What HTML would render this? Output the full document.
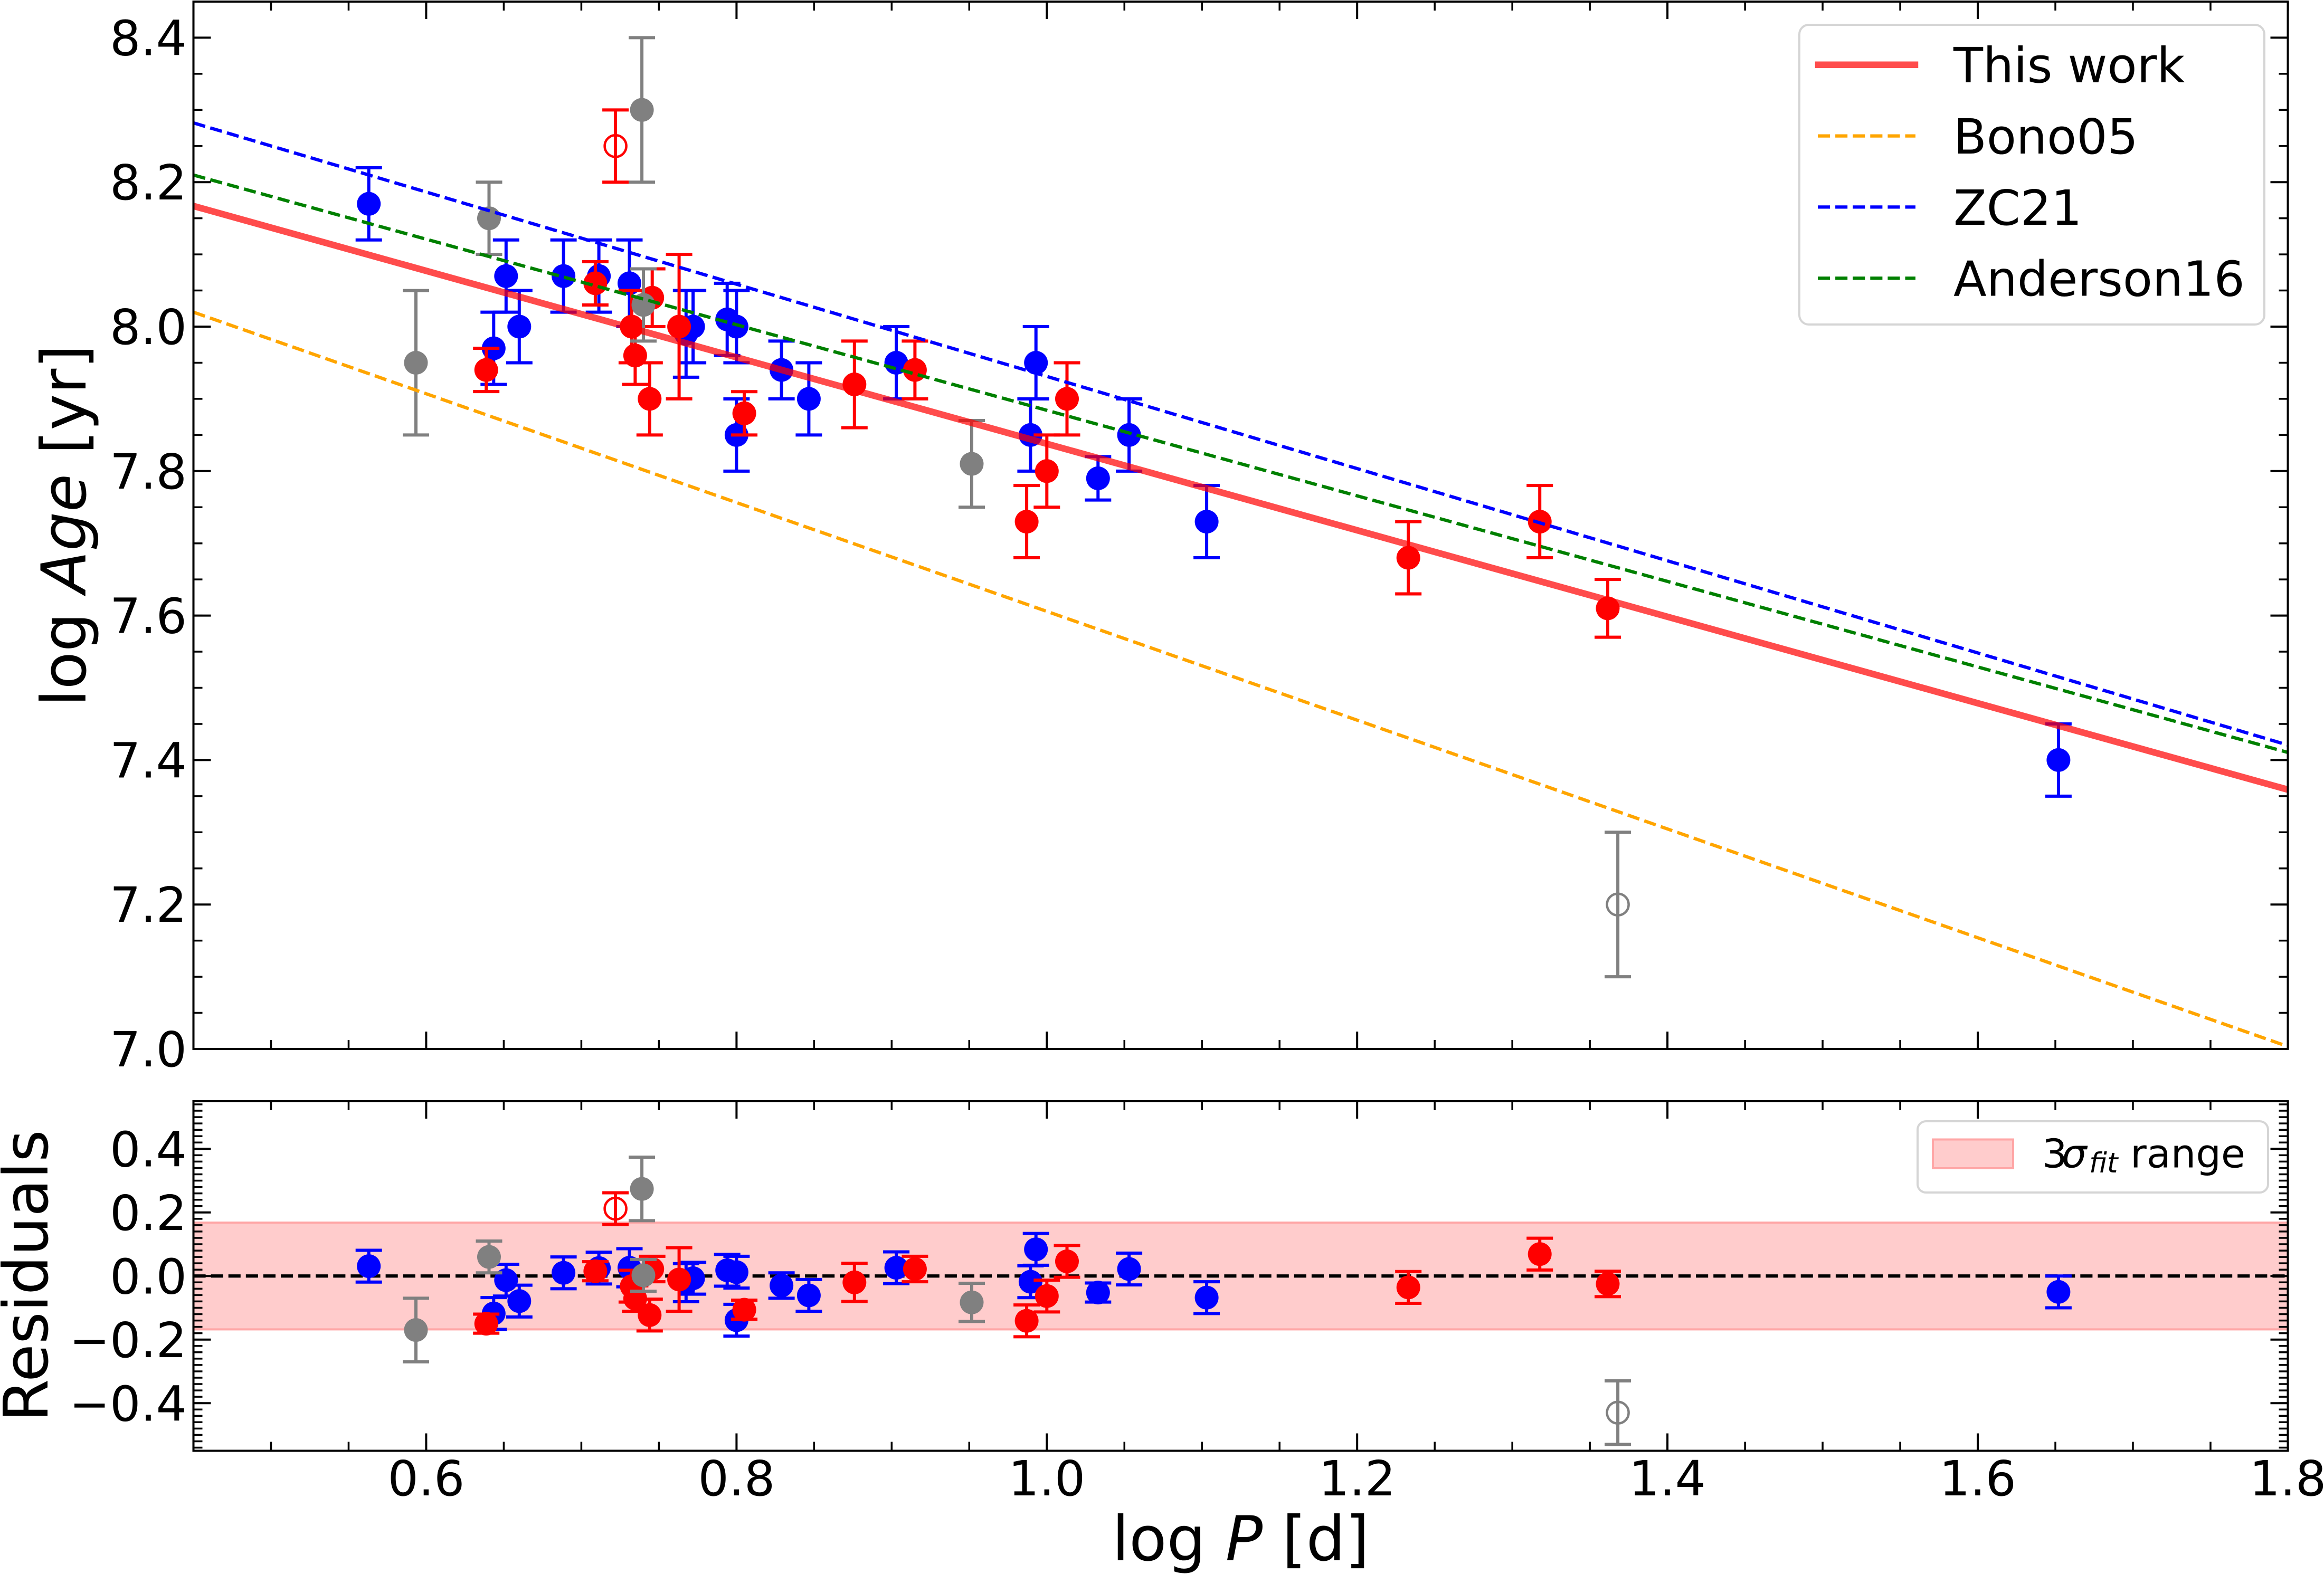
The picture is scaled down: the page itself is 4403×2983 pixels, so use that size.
<!DOCTYPE html>
<html><head><meta charset="utf-8"><style>html,body{margin:0;padding:0;background:#fff}svg{display:block}</style></head><body>
<svg xmlns="http://www.w3.org/2000/svg" xmlns:xlink="http://www.w3.org/1999/xlink" width="4403" height="2983" viewBox="0 0 4403 2983" font-family="'DejaVu Sans','Liberation Sans',sans-serif">
<rect width="4403" height="2983" fill="#fff"/>
<defs>
<clipPath id="ct"><rect x="366.5" y="3" width="3968" height="1985"/></clipPath>
<clipPath id="cr"><rect x="366.5" y="2087" width="3968" height="662.5"/></clipPath>
<g id="t3"><path d="M0,-41.07V41.07M-25,-41.07H25M-25,41.07H25" stroke="currentColor" stroke-width="6" fill="none"/><circle r="22.5" fill="currentColor"/></g>
<g id="t4"><path d="M0,-54.76V54.76M-25,-54.76H25M-25,54.76H25" stroke="currentColor" stroke-width="6" fill="none"/><circle r="22.5" fill="currentColor"/></g>
<g id="t5"><path d="M0,-68.45V68.45M-25,-68.45H25M-25,68.45H25" stroke="currentColor" stroke-width="6" fill="none"/><circle r="22.5" fill="currentColor"/></g>
<g id="t6"><path d="M0,-82.14V82.14M-25,-82.14H25M-25,82.14H25" stroke="currentColor" stroke-width="6" fill="none"/><circle r="22.5" fill="currentColor"/></g>
<g id="t10"><path d="M0,-136.9V136.9M-25,-136.9H25M-25,136.9H25" stroke="currentColor" stroke-width="6" fill="none"/><circle r="22.5" fill="currentColor"/></g>
<g id="ot5"><path d="M0,-68.45V68.45M-25,-68.45H25M-25,68.45H25" stroke="currentColor" stroke-width="6" fill="none"/><circle r="20.5" fill="none" stroke="currentColor" stroke-width="4.5"/></g>
<g id="ot10"><path d="M0,-136.9V136.9M-25,-136.9H25M-25,136.9H25" stroke="currentColor" stroke-width="6" fill="none"/><circle r="20.5" fill="none" stroke="currentColor" stroke-width="4.5"/></g>
<g id="r3"><path d="M0,-18.07V18.07M-25,-18.07H25M-25,18.07H25" stroke="currentColor" stroke-width="6" fill="none"/><circle r="22.5" fill="currentColor"/></g>
<g id="r4"><path d="M0,-24.09V24.09M-25,-24.09H25M-25,24.09H25" stroke="currentColor" stroke-width="6" fill="none"/><circle r="22.5" fill="currentColor"/></g>
<g id="r5"><path d="M0,-30.12V30.12M-25,-30.12H25M-25,30.12H25" stroke="currentColor" stroke-width="6" fill="none"/><circle r="22.5" fill="currentColor"/></g>
<g id="r6"><path d="M0,-36.14V36.14M-25,-36.14H25M-25,36.14H25" stroke="currentColor" stroke-width="6" fill="none"/><circle r="22.5" fill="currentColor"/></g>
<g id="r10"><path d="M0,-60.23V60.23M-25,-60.23H25M-25,60.23H25" stroke="currentColor" stroke-width="6" fill="none"/><circle r="22.5" fill="currentColor"/></g>
<g id="or5"><path d="M0,-30.12V30.12M-25,-30.12H25M-25,30.12H25" stroke="currentColor" stroke-width="6" fill="none"/><circle r="20.5" fill="none" stroke="currentColor" stroke-width="4.5"/></g>
<g id="or10"><path d="M0,-60.23V60.23M-25,-60.23H25M-25,60.23H25" stroke="currentColor" stroke-width="6" fill="none"/><circle r="20.5" fill="none" stroke="currentColor" stroke-width="4.5"/></g>
</defs>

<!-- ============ TOP PANEL ============ -->
<g clip-path="url(#ct)">
<g color="#0000ff">
<use href="#t5" xlink:href="#t5" x="698.7" y="386.3"/>
<use href="#t5" xlink:href="#t5" x="935.3" y="660.1"/>
<use href="#t5" xlink:href="#t5" x="958.8" y="523.2"/>
<use href="#t5" xlink:href="#t5" x="983.8" y="619"/>
<use href="#t5" xlink:href="#t5" x="1067.6" y="523.2"/>
<use href="#t5" xlink:href="#t5" x="1134.6" y="523.2"/>
<use href="#t6" xlink:href="#t6" x="1192.5" y="536.9"/>
<use href="#t6" xlink:href="#t6" x="1299.8" y="632.7"/>
<use href="#t5" xlink:href="#t5" x="1313.1" y="619"/>
<use href="#t5" xlink:href="#t5" x="1377.7" y="605.3"/>
<use href="#t5" xlink:href="#t5" x="1395.4" y="619"/>
<use href="#t5" xlink:href="#t5" x="1395.4" y="824.4"/>
<use href="#t4" xlink:href="#t4" x="1480.6" y="701.1"/>
<use href="#t5" xlink:href="#t5" x="1532.4" y="755.9"/>
<use href="#t5" xlink:href="#t5" x="1698.1" y="687.5"/>
<use href="#t5" xlink:href="#t5" x="1952.4" y="824.4"/>
<use href="#t5" xlink:href="#t5" x="1962.7" y="687.5"/>
<use href="#t3" xlink:href="#t3" x="2080.3" y="906.5"/>
<use href="#t5" xlink:href="#t5" x="2139.1" y="824.4"/>
<use href="#t5" xlink:href="#t5" x="2286.1" y="988.6"/>
<use href="#t5" xlink:href="#t5" x="3899.9" y="1440.4"/>
</g>
<g color="#ff0000">
<use href="#t3" xlink:href="#t3" x="921.2" y="701.1"/>
<use href="#t3" xlink:href="#t3" x="1127.9" y="536.9"/>
<use href="#t5" xlink:href="#t5" x="1196.9" y="619"/>
<use href="#t4" xlink:href="#t4" x="1203.4" y="673.8"/>
<use href="#t4" xlink:href="#t4" x="1235.7" y="564.2"/>
<use href="#t5" xlink:href="#t5" x="1230.8" y="755.9"/>
<use href="#t10" xlink:href="#t10" x="1286.6" y="619"/>
<use href="#t3" xlink:href="#t3" x="1410.1" y="783.3"/>
<use href="#t6" xlink:href="#t6" x="1618.8" y="728.5"/>
<use href="#t4" xlink:href="#t4" x="1733.4" y="701.1"/>
<use href="#t5" xlink:href="#t5" x="1945.1" y="988.6"/>
<use href="#t5" xlink:href="#t5" x="1983.3" y="892.8"/>
<use href="#t5" xlink:href="#t5" x="2021.5" y="755.9"/>
<use href="#t5" xlink:href="#t5" x="2668.2" y="1057.1"/>
<use href="#t5" xlink:href="#t5" x="2917.2" y="988.6"/>
<use href="#t4" xlink:href="#t4" x="3046" y="1152.9"/>
<use href="#ot5" xlink:href="#ot5" x="1166.1" y="276.8"/>
</g>
<g color="#808080">
<use href="#t10" xlink:href="#t10" x="788" y="687.5"/>
<use href="#t5" xlink:href="#t5" x="926.5" y="413.7"/>
<use href="#t10" xlink:href="#t10" x="1216.1" y="208.3"/>
<use href="#t5" xlink:href="#t5" x="1219" y="577.9"/>
<use href="#t6" xlink:href="#t6" x="1841" y="879.1"/>
<use href="#ot10" xlink:href="#ot10" x="3065.1" y="1714.2"/>
</g>
<line x1="366.5" y1="390.4" x2="4334.5" y2="1496.5" stroke="#ff0000" stroke-opacity="0.7" stroke-width="12.5"/>
<line x1="366.5" y1="591.6" x2="4334.5" y2="1983.2" stroke="#ffa500" stroke-width="6.25" stroke-dasharray="23.1 10"/>
<line x1="366.5" y1="232.9" x2="4334.5" y2="1412" stroke="#0000ff" stroke-width="6.25" stroke-dasharray="23.1 10"/>
<line x1="366.5" y1="331.7" x2="4334.5" y2="1426" stroke="#008000" stroke-width="6.25" stroke-dasharray="23.1 10"/>
</g>

<rect x="3409" y="47" width="881" height="568" rx="18" ry="18" fill="#fff" fill-opacity="0.8" stroke="#d5d5d5" stroke-width="4"/>
<line x1="3445" y1="122.8" x2="3628" y2="122.8" stroke="#ff0000" stroke-opacity="0.7" stroke-width="12.5" stroke-linecap="square"/>
<line x1="3444" y1="257.6" x2="3629" y2="257.6" stroke="#ffa500" stroke-width="6.25" stroke-dasharray="23.1 10"/>
<line x1="3444" y1="392.4" x2="3629" y2="392.4" stroke="#0000ff" stroke-width="6.25" stroke-dasharray="23.1 10"/>
<line x1="3444" y1="527.2" x2="3629" y2="527.2" stroke="#008000" stroke-width="6.25" stroke-dasharray="23.1 10"/>
<g font-size="91.7" fill="#000">
<text x="3701" y="156.2">This work</text>
<text x="3701" y="291">Bono05</text>
<text x="3701" y="425.8">ZC21</text>
<text x="3701" y="560.6">Anderson16</text>
</g>

<rect x="366.5" y="3" width="3968" height="1985" fill="none" stroke="#000" stroke-width="4"/>
<line x1="364.75" y1="11.5" x2="4337" y2="11.5" stroke="#000" stroke-width="17" stroke-dasharray="3.5 143.48"/>
<line x1="364.75" y1="1979.5" x2="4337" y2="1979.5" stroke="#000" stroke-width="17" stroke-dasharray="3.5 143.48"/>
<line x1="375" y1="1989.75" x2="375" y2="0" stroke="#000" stroke-width="17" stroke-dasharray="3.5 64.95"/>
<line x1="4326" y1="1989.75" x2="4326" y2="0" stroke="#000" stroke-width="17" stroke-dasharray="3.5 64.95"/>
<path stroke="#000" stroke-width="4" fill="none" d="
M807.4,3v33 M1395.4,3v33 M1983.3,3v33 M2571.2,3v33 M3159.1,3v33 M3747,3v33
M807.4,1988v-33 M1395.4,1988v-33 M1983.3,1988v-33 M2571.2,1988v-33 M3159.1,1988v-33 M3747,1988v-33
M366.5,1988h33 M366.5,1714.2h33 M366.5,1440.4h33 M366.5,1166.6h33 M366.5,892.8h33 M366.5,619h33 M366.5,345.2h33 M366.5,71.4h33
M4334.5,1988h-33 M4334.5,1714.2h-33 M4334.5,1440.4h-33 M4334.5,1166.6h-33 M4334.5,892.8h-33 M4334.5,619h-33 M4334.5,345.2h-33 M4334.5,71.4h-33"/>
<g font-size="91.7" text-anchor="end" fill="#000">
<text x="354" y="2021">7.0</text>
<text x="354" y="1747.2">7.2</text>
<text x="354" y="1473.4">7.4</text>
<text x="354" y="1199.6">7.6</text>
<text x="354" y="925.8">7.8</text>
<text x="354" y="652">8.0</text>
<text x="354" y="378.2">8.2</text>
<text x="354" y="104.4">8.4</text>
</g>
<text transform="translate(162,996) rotate(-90)" text-anchor="middle" font-size="116.7" fill="#000">log <tspan font-style="italic">Age</tspan> [yr]</text>

<!-- ============ RESIDUAL PANEL ============ -->
<g clip-path="url(#cr)">
<rect x="300" y="2317.1" width="4100" height="202.3" fill="#ffcccc" stroke="#ffa6a6" stroke-width="4"/>
<line x1="366.5" y1="2418.25" x2="4334.5" y2="2418.25" stroke="#000" stroke-width="6.25" stroke-dasharray="23.1 10"/>
<g color="#0000ff">
<use href="#r5" xlink:href="#r5" x="698.7" y="2399.6"/>
<use href="#r5" xlink:href="#r5" x="935.3" y="2489.3"/>
<use href="#r5" xlink:href="#r5" x="958.8" y="2426.1"/>
<use href="#r5" xlink:href="#r5" x="983.8" y="2465.8"/>
<use href="#r5" xlink:href="#r5" x="1067.6" y="2412.2"/>
<use href="#r5" xlink:href="#r5" x="1134.6" y="2403.2"/>
<use href="#r6" xlink:href="#r6" x="1192.5" y="2402.6"/>
<use href="#r6" xlink:href="#r6" x="1299.8" y="2430.9"/>
<use href="#r5" xlink:href="#r5" x="1313.1" y="2422.5"/>
<use href="#r5" xlink:href="#r5" x="1377.7" y="2407.4"/>
<use href="#r5" xlink:href="#r5" x="1395.4" y="2411"/>
<use href="#r5" xlink:href="#r5" x="1395.4" y="2502"/>
<use href="#r4" xlink:href="#r4" x="1480.6" y="2436.3"/>
<use href="#r5" xlink:href="#r5" x="1532.4" y="2455"/>
<use href="#r5" xlink:href="#r5" x="1698.1" y="2402.6"/>
<use href="#r5" xlink:href="#r5" x="1952.4" y="2429.1"/>
<use href="#r5" xlink:href="#r5" x="1962.7" y="2367.7"/>
<use href="#r3" xlink:href="#r3" x="2080.3" y="2449.6"/>
<use href="#r5" xlink:href="#r5" x="2139.1" y="2405"/>
<use href="#r5" xlink:href="#r5" x="2286.1" y="2459.2"/>
<use href="#r5" xlink:href="#r5" x="3899.9" y="2448.4"/>
</g>
<g color="#ff0000">
<use href="#r3" xlink:href="#r3" x="921.2" y="2508.6"/>
<use href="#r3" xlink:href="#r3" x="1127.9" y="2409.2"/>
<use href="#r5" xlink:href="#r5" x="1196.9" y="2437.5"/>
<use href="#r4" xlink:href="#r4" x="1203.4" y="2461"/>
<use href="#r4" xlink:href="#r4" x="1235.7" y="2405"/>
<use href="#r5" xlink:href="#r5" x="1230.8" y="2492.3"/>
<use href="#r10" xlink:href="#r10" x="1286.6" y="2424.9"/>
<use href="#r3" xlink:href="#r3" x="1410.1" y="2482.1"/>
<use href="#r6" xlink:href="#r6" x="1618.8" y="2430.3"/>
<use href="#r4" xlink:href="#r4" x="1733.4" y="2405"/>
<use href="#r5" xlink:href="#r5" x="1945.1" y="2503.2"/>
<use href="#r5" xlink:href="#r5" x="1983.3" y="2456.2"/>
<use href="#r5" xlink:href="#r5" x="2021.5" y="2390.5"/>
<use href="#r5" xlink:href="#r5" x="2668.2" y="2439.9"/>
<use href="#r5" xlink:href="#r5" x="2917.2" y="2376.7"/>
<use href="#r4" xlink:href="#r4" x="3046" y="2433.3"/>
<use href="#or5" xlink:href="#or5" x="1166.1" y="2290.6"/>
</g>
<g color="#808080">
<use href="#r10" xlink:href="#r10" x="788" y="2520.6"/>
<use href="#r5" xlink:href="#r5" x="926.5" y="2382.1"/>
<use href="#r10" xlink:href="#r10" x="1216.1" y="2253.2"/>
<use href="#r5" xlink:href="#r5" x="1219" y="2417"/>
<use href="#r6" xlink:href="#r6" x="1841" y="2468.2"/>
<use href="#or10" xlink:href="#or10" x="3065.1" y="2677.2"/>
</g>
</g>

<rect x="3633" y="2125" width="664" height="135" rx="16" ry="16" fill="#fff" fill-opacity="0.8" stroke="#d5d5d5" stroke-width="4"/>
<rect x="3662" y="2159.5" width="152" height="54.5" fill="#ffcccc" stroke="#ffa6a6" stroke-width="4"/>
<g font-size="75" fill="#000">
<text x="3869" y="2212.5">3</text>
<text x="3906" y="2212.5" font-style="italic">σ</text>
<text x="3958" y="2222" font-style="italic" font-size="52.5">fit</text>
<text x="4036" y="2212.5">range</text>
</g>

<rect x="366.5" y="2087" width="3968" height="662.5" fill="none" stroke="#000" stroke-width="4"/>
<line x1="364.75" y1="2095.5" x2="4337" y2="2095.5" stroke="#000" stroke-width="17" stroke-dasharray="3.5 143.48"/>
<line x1="364.75" y1="2741" x2="4337" y2="2741" stroke="#000" stroke-width="17" stroke-dasharray="3.5 143.48"/>
<line x1="375" y1="2745.24" x2="375" y2="2090.5" stroke="#000" stroke-width="17" stroke-dasharray="3.5 8.546"/>
<line x1="4326" y1="2745.24" x2="4326" y2="2090.5" stroke="#000" stroke-width="17" stroke-dasharray="3.5 8.546"/>
<path stroke="#000" stroke-width="4" fill="none" d="
M807.4,2087v33 M1395.4,2087v33 M1983.3,2087v33 M2571.2,2087v33 M3159.1,2087v33 M3747,2087v33
M807.4,2749.5v-33 M1395.4,2749.5v-33 M1983.3,2749.5v-33 M2571.2,2749.5v-33 M3159.1,2749.5v-33 M3747,2749.5v-33
M366.5,2177.3h33 M366.5,2297.8h33 M366.5,2418.25h33 M366.5,2538.7h33 M366.5,2659.2h33
M4334.5,2177.3h-33 M4334.5,2297.8h-33 M4334.5,2418.25h-33 M4334.5,2538.7h-33 M4334.5,2659.2h-33"/>
<g font-size="91.7" text-anchor="end" fill="#000">
<text x="354" y="2210.7">0.4</text>
<text x="354" y="2331.2">0.2</text>
<text x="354" y="2451.6">0.0</text>
<text x="354" y="2572.1">−0.2</text>
<text x="354" y="2692.6">−0.4</text>
</g>
<g font-size="91.7" text-anchor="middle" fill="#000">
<text x="807.4" y="2834">0.6</text>
<text x="1395.4" y="2834">0.8</text>
<text x="1983.3" y="2834">1.0</text>
<text x="2571.2" y="2834">1.2</text>
<text x="3159.1" y="2834">1.4</text>
<text x="3747" y="2834">1.6</text>
<text x="4334.5" y="2834">1.8</text>
</g>
<text transform="translate(90,2418) rotate(-90)" text-anchor="middle" font-size="116.7" fill="#000">Residuals</text>
<text x="2350.5" y="2957" text-anchor="middle" font-size="116.7" fill="#000">log <tspan font-style="italic">P</tspan> [d]</text>
</svg>
</body></html>
